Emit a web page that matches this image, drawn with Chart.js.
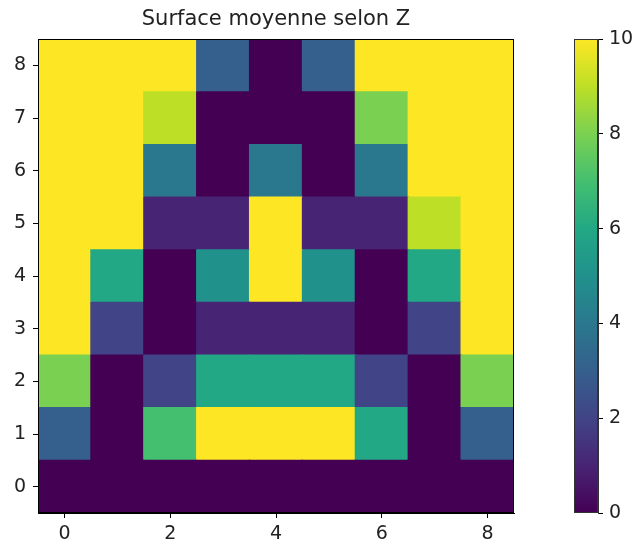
<!DOCTYPE html>
<html>
<head>
<meta charset="utf-8">
<script src="https://cdn.jsdelivr.net/npm/chart.js@4/dist/chart.umd.min.js"></script>
<style>
  body { margin: 0; background: #fff; width: 635px; height: 544px; overflow: hidden; position: relative; }
  #heat { position: absolute; left: 0; top: 0; }
  #cbar { position: absolute; left: 560px; top: 0; }
</style>
</head>
<body>
<canvas id="heat" width="540" height="544"></canvas>
<canvas id="cbar" width="75" height="544"></canvas>
<script>
// valeurs, ligne y=0 en premier
const xCols = [0, 1, 2, 3, 4, 5, 6, 7, 8];
const yRows = [0, 1, 2, 3, 4, 5, 6, 7, 8];
const zRow0 = [0, 0, 0, 0, 0, 0, 0, 0, 0];
const zRow1 = [3, 0, 7, 10, 10, 10, 6, 0, 3];
const zRow2 = [8, 0, 2, 6, 6, 6, 2, 0, 8];
const zRow3 = [10, 2, 0, 1, 1, 1, 0, 2, 10];
const zRow4 = [10, 6, 0, 5, 10, 5, 0, 6, 10];
const zRow5 = [10, 10, 1, 1, 10, 1, 1, 9, 10];
const zRow6 = [10, 10, 4, 0, 4, 0, 4, 10, 10];
const zRow7 = [10, 10, 9, 0, 0, 0, 8, 10, 10];
const zRow8 = [10, 10, 10, 3, 0, 3, 10, 10, 10];
const zRows = [zRow0, zRow1, zRow2, zRow3, zRow4, zRow5, zRow6, zRow7, zRow8];
const xTicks = [0, 2, 4, 6, 8];
const yTicks = [0, 1, 2, 3, 4, 5, 6, 7, 8];
const cbarTicks = [0, 2, 4, 6, 8, 10];
const zMin = 0, zMax = 10;

// palette viridis
const viridis = ['#440154', '#482475', '#414487', '#355f8d', '#2a788e', '#21918c',
                 '#22a884', '#44bf70', '#7ad151', '#bddf26', '#fde725'];

function hexRgb(h) {
    return [1, 3, 5].map(i => parseInt(h.substr(i, 2), 16));
}
function couleur(v) {
    const t = Math.min(1, Math.max(0, (v - zMin) / (zMax - zMin))) * (viridis.length - 1);
    const i = Math.min(viridis.length - 2, Math.floor(t));
    const f = t - i;
    const a = hexRgb(viridis[i]), b = hexRgb(viridis[i + 1]);
    const c = a.map((va, k) => Math.round(va + (b[k] - va) * f));
    return `rgb(${c[0]},${c[1]},${c[2]})`;
}

const police = { family: 'DejaVu Sans', size: 19 };

// cadre complet autour de la zone de tracé
const cadre = {
    id: 'cadre',
    afterDraw(chart, args, opts) {
        const a = chart.chartArea, ctx = chart.ctx;
        ctx.save();
        ctx.strokeStyle = opts.color || '#000';
        ctx.lineWidth = 1;
        ctx.strokeRect(Math.round(a.left) + 0.5, Math.round(a.top) + 0.5,
            Math.round(a.right - a.left) - 1, Math.round(a.bottom - a.top) - 1);
        ctx.restore();
    }
};

// une série par ligne de la grille (barres flottantes)
const seriesLignes = yRows.map((r, k) => ({
    data: xCols.map(c => ({ x: c, y: [r - 0.5, r + 0.5] })),
    backgroundColor: zRows[k].map(couleur),
    borderWidth: 0,
    grouped: false,
    barPercentage: 1,
    categoryPercentage: 1,
    inflateAmount: 0.6
}));

new Chart(document.getElementById('heat'), {
    type: 'bar',
    data: { datasets: seriesLignes },
    options: {
        responsive: false,
        animation: false,
        layout: { padding: { right: 26, left: 0 } },
        plugins: {
            legend: { display: false },
            tooltip: { enabled: false },
            title: {
                display: true,
                text: 'Surface moyenne selon Z',
                fullSize: false,
                color: '#222',
                font: { family: 'DejaVu Sans', size: 21, weight: 'normal' },
                padding: { top: 7, bottom: 7 }
            },
            cadre: { color: '#000' }
        },
        scales: {
            x: {
                type: 'linear',
                min: -0.5, max: 8.5,
                offset: false,
                afterBuildTicks: s => { s.ticks = xTicks.map(v => ({ value: v })); },
                afterFit: s => { s.height = 31; },
                ticks: { color: '#222', font: police, padding: 5 },
                grid: { offset: false, drawOnChartArea: false, tickLength: 5, tickColor: '#000' },
                border: { color: '#000' }
            },
            y: {
                type: 'linear',
                min: -0.5, max: 8.5,
                afterBuildTicks: s => { s.ticks = yTicks.map(v => ({ value: v })); },
                afterFit: s => { s.width = 38; },
                ticks: { color: '#222', font: police, padding: 7 },
                grid: { drawOnChartArea: false, tickLength: 5, tickColor: '#000' },
                border: { color: '#000' }
            }
        }
    },
    plugins: [cadre]
});

// barre de couleurs
new Chart(document.getElementById('cbar'), {
    type: 'bar',
    data: {
        labels: [''],
        datasets: [{
            data: [[zMin, zMax]],
            backgroundColor: ctx => {
                const a = ctx.chart.chartArea;
                if (!a) return viridis[0];
                const g = ctx.chart.ctx.createLinearGradient(0, a.bottom, 0, a.top);
                viridis.forEach((c, i) => g.addColorStop(i / (viridis.length - 1), c));
                return g;
            },
            borderWidth: 0,
            barPercentage: 1,
            categoryPercentage: 1
        }]
    },
    options: {
        responsive: false,
        animation: false,
        layout: { padding: { left: 14, top: 39, bottom: 31, right: 0 } },
        plugins: {
            legend: { display: false },
            tooltip: { enabled: false },
            cadre: { color: '#333' }
        },
        scales: {
            x: { display: false },
            y: {
                position: 'right',
                min: zMin, max: zMax,
                afterBuildTicks: s => { s.ticks = cbarTicks.map(v => ({ value: v })); },
                afterFit: s => { s.width = 37; },
                ticks: { color: '#222', font: police, padding: 6 },
                grid: { drawOnChartArea: false, tickLength: 5, tickColor: '#000' },
                border: { color: '#333' }
            }
        }
    },
    plugins: [cadre]
});
</script>
</body>
</html>
